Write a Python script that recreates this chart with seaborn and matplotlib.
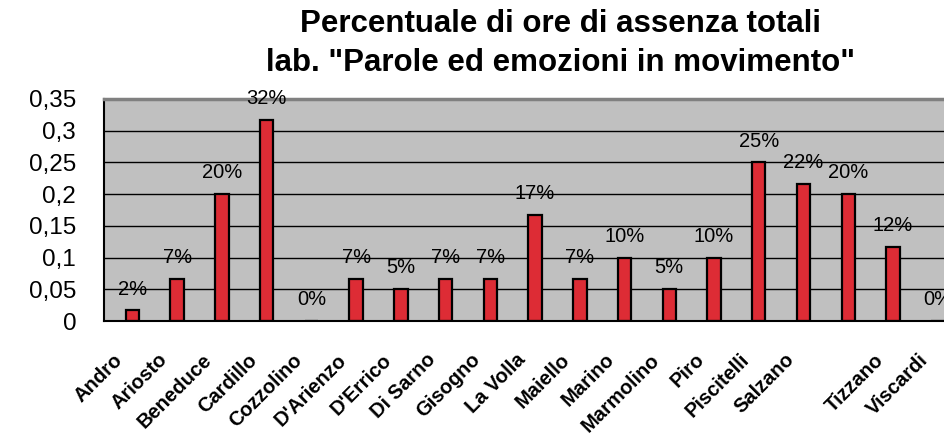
import matplotlib
matplotlib.use("Agg")
import matplotlib.pyplot as plt
import seaborn as sns
import pandas as pd

# Data
names = ["Andro", "Ariosto", "Beneduce", "Cardillo", "Cozzolino", "D'Arienzo",
         "D'Errico", "Di Sarno", "Gisogno", "La Volla", "Maiello", "Marino",
         "Marmolino", "Piro", "Piscitelli", "Salzano", "", "Tizzano", "Viscardi"]
values = [0.0167, 0.0667, 0.2, 0.3167, 0.0, 0.0667,
          0.05, 0.0667, 0.0667, 0.1667, 0.0667, 0.1,
          0.05, 0.1, 0.25, 0.2167, 0.2, 0.1167, 0.0]
yticks = [0, 0.05, 0.1, 0.15, 0.2, 0.25, 0.3, 0.35]
ytick_labels = ["0", "0,05", "0,1", "0,15", "0,2", "0,25", "0,3", "0,35"]

df = pd.DataFrame({"nome": names, "assenza": values})

sns.set_style("white")
plt.rcParams['font.family'] = ['Liberation Sans', 'DejaVu Sans']
plt.rcParams['text.color'] = 'black'
plt.rcParams['xtick.color'] = 'black'
plt.rcParams['ytick.color'] = 'black'
plt.rcParams['axes.labelcolor'] = 'black'

fig = plt.figure(figsize=(9.45, 4.36), dpi=100)
ax = fig.add_axes([104 / 945, 115 / 436, 850 / 945, 222 / 436])
ax.set_facecolor("#C0C0C0")

sns.barplot(data=df, x="nome", y="assenza", order=names, color="#DD2C35",
            saturation=1, width=0.3, edgecolor="black", linewidth=1.6, ax=ax)

# bars sit a little right of the category centre, like in the original
for p in ax.patches:
    p.set_x(p.get_x() + 0.136)

for p, v in zip(ax.patches, values):
    ax.annotate(f"{v:.0%}", (p.get_x() + p.get_width() / 2, v),
                xytext=(0, 8.5), textcoords="offset points",
                ha="center", va="bottom", fontsize=14.5, color="black",
                annotation_clip=False)

ax.set_xlim(-0.5, len(names) - 0.5)
ax.set_ylim(0, 0.35)
ax.set_yticks(yticks)
ax.set_yticklabels(ytick_labels, fontsize=17.5)
ax.set_xticks(range(len(names)))
ax.set_xticklabels(names, rotation=45, ha="right", fontsize=14.5, fontweight="bold")
ax.set_xticks([i - 0.5 for i in range(len(names) + 1)], minor=True)
ax.tick_params(axis="x", which="major", length=0, pad=21)
ax.tick_params(axis="x", which="minor", length=4.5, width=1, color="black", direction="out")
ax.tick_params(axis="y", length=8, width=1.2, color="black", direction="out", pad=12)
ax.set_xlabel("")
ax.set_ylabel("")

ax.set_axisbelow(True)
ax.yaxis.grid(True, color="black", linewidth=1)
ax.spines["top"].set_color("#808080")
ax.spines["top"].set_linewidth(2.5)
ax.spines["left"].set_color("black")
ax.spines["left"].set_linewidth(1.5)
ax.spines["bottom"].set_color("black")
ax.spines["bottom"].set_linewidth(1.5)
ax.spines["right"].set_visible(False)

fig.text(561 / 945, 1 - 32 / 436, "Percentuale di ore di assenza totali",
         ha="center", va="baseline", fontsize=22.5, fontweight="bold")
fig.text(561 / 945, 1 - 71 / 436, "lab. \"Parole ed emozioni in movimento\"",
         ha="center", va="baseline", fontsize=22.5, fontweight="bold")

fig.savefig("out.png", dpi=100)
